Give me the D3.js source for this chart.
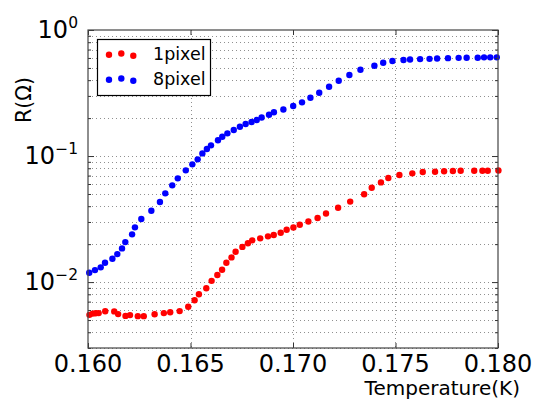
<!DOCTYPE html>
<html>
<head>
<meta charset="utf-8">
<script src="https://cdn.jsdelivr.net/npm/d3@7"></script>
<style>
  body { margin: 0; background: #fff; }
  text { font-family: "DejaVu Sans", sans-serif; }
</style>
</head>
<body>
<div id="chart"></div>
<script>
// data
var seriesNames = ["1pixel", "8pixel"];
var seriesColors = ["#ff0000", "#0000ff"];

var temp1 = [0.16007, 0.16023, 0.16037, 0.16052, 0.16084, 0.16128, 0.16147, 0.16183, 0.16205, 0.16243,
    0.16272, 0.16325, 0.16370, 0.16401, 0.16447, 0.16489, 0.16520, 0.16541, 0.16577, 0.16603,
    0.16631, 0.16654, 0.16675, 0.16700, 0.16720, 0.16753, 0.16780, 0.16801, 0.16840, 0.16878,
    0.16906, 0.16940, 0.16969, 0.17002, 0.17033, 0.17075, 0.17120, 0.17161, 0.17220, 0.17279,
    0.17347, 0.17384, 0.17429, 0.17465, 0.17519, 0.17582, 0.17633, 0.17693, 0.17737, 0.17780,
    0.17818, 0.17884, 0.17924, 0.17950, 0.18002];
var res1 = [0.005495, 0.005623, 0.005666, 0.005675, 0.005866, 0.005852, 0.005572, 0.005393, 0.005470, 0.005370,
    0.005370, 0.005550, 0.005675, 0.005759, 0.005888, 0.006370, 0.007185, 0.008017, 0.008926, 0.01023,
    0.01138, 0.01253, 0.01423, 0.01570, 0.01739, 0.01902, 0.02032, 0.02143, 0.02223, 0.02306,
    0.02366, 0.02463, 0.02602, 0.02710, 0.02851, 0.03022, 0.03222, 0.03497, 0.03890, 0.04352,
    0.04976, 0.05603, 0.06180, 0.06690, 0.07068, 0.07290, 0.07465, 0.07508, 0.07565, 0.07608,
    0.07637, 0.07637, 0.07637, 0.07650, 0.07680];

var temp8 = [0.16006, 0.16034, 0.16062, 0.16083, 0.16119, 0.16143, 0.16166, 0.16182, 0.16215, 0.16229,
    0.16260, 0.16309, 0.16351, 0.16377, 0.16411, 0.16438, 0.16477, 0.16509, 0.16535, 0.16558,
    0.16580, 0.16600, 0.16634, 0.16655, 0.16680, 0.16711, 0.16741, 0.16769, 0.16798, 0.16823,
    0.16847, 0.16883, 0.16907, 0.16953, 0.17001, 0.17044, 0.17085, 0.17128, 0.17176, 0.17223,
    0.17275, 0.17329, 0.17397, 0.17440, 0.17485, 0.17539, 0.17571, 0.17620, 0.17666, 0.17703,
    0.17756, 0.17808, 0.17847, 0.17901, 0.17932, 0.17962, 0.17994];
var res8 = [0.01186, 0.01245, 0.01309, 0.01423, 0.01531, 0.01667, 0.01850, 0.02076, 0.02392, 0.02718,
    0.03162, 0.03680, 0.04315, 0.05058, 0.05853, 0.06653, 0.07703, 0.08590, 0.09415, 0.1050,
    0.1137, 0.1216, 0.1333, 0.1423, 0.1514, 0.1608, 0.1709, 0.1795, 0.1862, 0.1931,
    0.2022, 0.2124, 0.2223, 0.2339, 0.2493, 0.2667, 0.2903, 0.3178, 0.3548, 0.3961,
    0.4396, 0.4842, 0.5209, 0.5492, 0.5675, 0.5781, 0.5834, 0.5875, 0.5904, 0.5938,
    0.5979, 0.6014, 0.6026, 0.6026, 0.6070, 0.6070, 0.6070];

var xTicks = [0.160, 0.165, 0.170, 0.175, 0.180];
var yMajor = [1e-2, 1e-1, 1];
var yExp = ["-2", "-1", "0"];

var width   = 538,
    height  = 401,
    plotL   = 88,
    plotT   = 30,
    plotR   = 498,
    plotB   = 348,
    dotR    = 3.2;

var x = d3.scaleLinear().domain([0.160, 0.180]).range([plotL, plotR]);
var y = d3.scaleLog().domain([0.003, 1]).range([plotB, plotT]);

// minor log ticks 2..9 inside the domain
var yMinor = [];
[0.001, 0.01, 0.1].forEach(function(dec) {
    d3.range(2, 10).forEach(function(k) {
        var v = dec * k;
        if (v >= 0.003 && v < 1) yMinor.push(v);
    });
});

var svg = d3.select("#chart").append("svg")
    .attr("width", width)
    .attr("height", height);

svg.append("rect").attr("width", width).attr("height", height).attr("fill", "#fff");

// grid
var grid = svg.append("g").attr("class", "grid")
    .attr("stroke", "#909090")
    .attr("stroke-width", 1)
    .attr("stroke-dasharray", "1,3");

grid.selectAll("line.h")
    .data(yMinor.concat(yMajor.slice(0, 2)))
    .enter().append("line")
    .attr("x1", plotL).attr("x2", plotR)
    .attr("y1", function(d) { return Math.round(y(d)) + 0.5; })
    .attr("y2", function(d) { return Math.round(y(d)) + 0.5; });

grid.selectAll("line.v")
    .data(xTicks.slice(1, 4))
    .enter().append("line")
    .attr("y1", plotT).attr("y2", plotB)
    .attr("x1", function(d) { return Math.round(x(d)) + 0.5; })
    .attr("x2", function(d) { return Math.round(x(d)) + 0.5; });

// data points
var series = [
    { name: seriesNames[0], color: seriesColors[0], xs: temp1, ys: res1 },
    { name: seriesNames[1], color: seriesColors[1], xs: temp8, ys: res8 }
];

var plot = svg.append("g").attr("id", "plot");
series.forEach(function(s) {
    plot.append("g").selectAll("circle")
        .data(d3.zip(s.xs, s.ys))
        .enter().append("circle")
        .attr("cx", function(d) { return x(d[0]); })
        .attr("cy", function(d) { return y(d[1]); })
        .attr("r", dotR)
        .attr("fill", s.color);
});

// axes, ticks inside on all four sides
var frame = svg.append("g").attr("class", "frame");

frame.append("g")
    .attr("transform", "translate(0," + plotB + ")")
    .call(d3.axisTop(x).tickValues(xTicks).tickSize(5).tickFormat(""));
frame.append("g")
    .attr("transform", "translate(0," + plotT + ")")
    .call(d3.axisBottom(x).tickValues(xTicks).tickSize(5).tickFormat(""));
frame.append("g")
    .attr("transform", "translate(" + plotL + ",0)")
    .call(d3.axisRight(y).tickValues(yMajor).tickSize(6).tickFormat(""));
frame.append("g")
    .attr("transform", "translate(" + plotL + ",0)")
    .call(d3.axisRight(y).tickValues(yMinor).tickSize(3).tickFormat(""));
frame.append("g")
    .attr("transform", "translate(" + plotR + ",0)")
    .call(d3.axisLeft(y).tickValues(yMajor).tickSize(6).tickFormat(""));
frame.append("g")
    .attr("transform", "translate(" + plotR + ",0)")
    .call(d3.axisLeft(y).tickValues(yMinor).tickSize(3).tickFormat(""));

frame.selectAll("path.domain").remove();
frame.selectAll("line").attr("stroke", "#333");

svg.append("rect")
    .attr("x", plotL).attr("y", plotT)
    .attr("width", plotR - plotL).attr("height", plotB - plotT)
    .attr("fill", "none")
    .attr("stroke", "#444")
    .attr("stroke-width", 1.2);

// tick labels
svg.append("g").selectAll("text")
    .data(xTicks)
    .enter().append("text")
    .attr("x", function(d) { return x(d); })
    .attr("y", 372)
    .attr("text-anchor", "middle")
    .attr("font-size", 24)
    .attr("fill", "#000")
    .text(function(d) { return d3.format(".3f")(d); });

var ylab = svg.append("g").selectAll("text")
    .data(yMajor)
    .enter().append("text")
    .attr("x", 78)
    .attr("y", function(d) { return y(d) + 8; })
    .attr("text-anchor", "end")
    .attr("fill", "#000");
ylab.append("tspan")
    .attr("font-size", 24)
    .text("10");
ylab.append("tspan")
    .attr("font-size", 15.5)
    .attr("dy", -10)
    .text(function(d, i) { return yExp[i].replace("-", "\u2212"); });

// axis labels
svg.append("text")
    .attr("x", 520)
    .attr("y", 395)
    .attr("text-anchor", "end")
    .attr("font-size", 20)
    .attr("fill", "#000")
    .text("Temperature(K)");

svg.append("text")
    .attr("transform", "translate(31,100) rotate(-90)")
    .attr("text-anchor", "middle")
    .attr("font-size", 20.5)
    .attr("fill", "#000")
    .text("R(\u03a9)");

// legend
var legend = svg.append("g").attr("class", "legend");
legend.append("rect")
    .attr("x", 97.5).attr("y", 39.5)
    .attr("width", 113).attr("height", 56)
    .attr("fill", "#fff")
    .attr("stroke", "#000")
    .attr("stroke-width", 1.2);

var jitterX = [109, 121.3, 133.3];
var jitterY = [0.8, -0.5, 1.8];
series.forEach(function(s, i) {
    var cy = 54 + i * 25;
    legend.append("g").selectAll("circle")
        .data(jitterX)
        .enter().append("circle")
        .attr("cx", function(d) { return d; })
        .attr("cy", function(d, j) { return cy + jitterY[j]; })
        .attr("r", dotR)
        .attr("fill", s.color);
    legend.append("text")
        .attr("x", 153)
        .attr("y", cy + 6)
        .attr("font-size", 17.5)
        .attr("fill", "#000")
        .text(s.name);
});
</script>
</body>
</html>
